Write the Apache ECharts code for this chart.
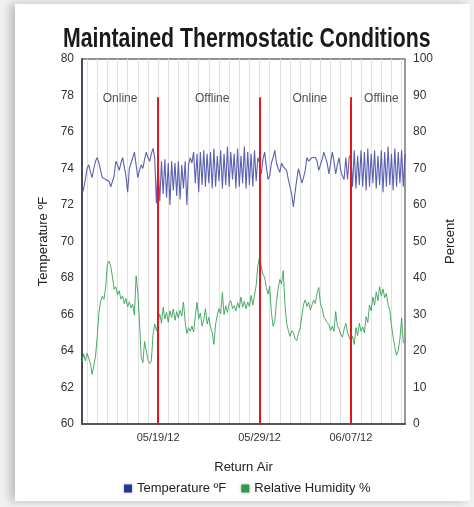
<!DOCTYPE html>
<html>
<head>
<meta charset="utf-8">
<script src="https://cdn.jsdelivr.net/npm/echarts@6/dist/echarts.min.js"></script>
<style>
html,body{margin:0;padding:0;background:#f1f1f1;width:474px;height:507px;overflow:hidden;}
#card{position:absolute;left:15px;top:4px;width:455px;height:497px;background:#fff;box-shadow:-5px 0 9px rgba(0,0,0,0.22);}
#chart{position:absolute;left:0;top:0;width:474px;height:507px;}
</style>
</head>
<body>
<div id="card"></div>
<div id="chart"></div>
<script>
// ---- data ----
const startTime = new Date(2012, 4, 11, 12, 0, 0).getTime();
const stepMs = 4 * 3600 * 1000; // one reading every 4 hours

const temperatureF = [
  72.6,72.9,73.4,74.0,74.2,73.8,73.5,74.0,74.4,74.6,
  74.3,73.9,73.5,73.5,73.4,73.5,73.3,73.0,72.9,73.6,
  74.4,74.2,73.9,74.3,74.6,74.7,73.6,72.7,74.0,74.3,
  74.6,74.9,74.2,73.5,73.9,74.2,74.0,74.5,74.9,74.6,
  74.4,74.8,75.1,74.6,72.1,
  74.3,72.2,74.4,72.6,74.5,72.4,74.3,72.0,74.4,72.8,
  74.3,72.5,74.4,72.3,74.2,72.9,74.4,72.0,74.2,74.6,
  74.3,74.9,73.2,74.8,72.7,74.9,73.1,75.0,73.0,74.8,
  73.2,74.9,72.9,75.1,73.0,74.7,73.3,75.0,72.9,74.8,
  73.1,75.2,73.0,74.9,73.4,74.8,72.9,75.1,73.0,74.7,
  73.2,75.2,72.9,74.9,73.1,74.8,73.0,75.0,73.3,74.6,
  74.3,73.7,74.5,74.9,74.1,73.4,73.6,74.3,74.6,75.0,
  74.3,74.0,73.8,74.3,74.1,74.2,73.9,73.4,73.0,72.6,
  71.9,72.7,73.4,74.0,73.6,73.2,73.5,73.9,74.6,74.4,
  74.5,74.6,74.5,74.6,74.4,73.9,74.2,74.5,74.9,74.6,
  74.3,73.7,74.3,74.9,74.4,73.7,74.2,74.6,73.9,73.6,
  73.4,74.6,73.4,74.6,
  74.8,73.0,75.0,72.9,74.7,73.1,75.0,73.0,74.9,72.8,
  75.1,73.0,74.8,73.2,75.0,72.9,74.7,73.1,75.0,72.7,
  74.9,73.0,75.2,73.1,74.8,72.8,75.1,73.0,74.9,73.2,
  75.0,73.0,74.8
];

const humidityPct = [
  17.0,19.2,17.3,19.4,18.0,16.5,13.6,13.9,18.5,24.0,
  30.5,33.6,35.0,34.2,37.5,43.8,44.6,43.2,40.3,36.9,
  37.6,35.4,36.5,34.2,35.1,33.0,34.4,32.1,33.5,31.8,
  32.8,29.8,40.6,36.0,28.0,18.5,16.8,22.6,23.0,17.6,
  16.6,17.2,24.5,27.4,25.6,27.8,30.2,27.6,32.0,28.8,
  30.6,27.9,31.0,29.2,31.5,28.4,30.8,29.0,31.2,29.6,
  33.4,28.0,24.8,26.4,25.4,26.8,25.2,29.6,33.3,28.8,
  30.4,26.8,28.6,31.6,27.4,29.2,26.6,25.0,21.8,27.4,
  29.8,31.6,30.2,36.0,30.0,32.4,30.6,33.0,33.8,31.6,
  32.4,31.0,33.2,31.8,34.8,32.0,33.6,31.6,33.4,32.2,
  35.2,32.6,33.0,38.0,43.4,45.8,43.0,41.0,40.2,37.4,
  35.6,37.8,30.5,26.8,28.2,33.5,37.2,39.6,38.4,42.0,
  33.0,27.6,25.6,24.0,25.6,25.0,23.4,22.8,24.8,26.4,
  29.6,32.8,34.0,32.2,33.4,31.2,32.6,34.0,33.0,36.0,
  37.4,33.0,31.6,29.4,29.8,27.8,27.2,25.6,26.8,25.4,
  30.8,27.0,26.0,24.6,23.8,26.0,27.6,25.0,25.4,22.6,
  24.0,21.8,26.4,24.2,27.6,25.4,26.6,25.0,29.4,27.8,
  32.6,31.0,34.8,32.6,36.2,33.8,37.6,35.0,37.0,34.6,
  35.8,32.8,31.2,27.0,23.8,21.0,18.8,20.2,23.4,29.0,
  22.4,22.0
];

const switchDates = [new Date(2012,4,19).getTime(), new Date(2012,4,29).getTime(), new Date(2012,5,7).getTime()];
const dateTickLabels = ['05/19/12', '05/29/12', '06/07/12'];
const phaseLabels = ['Online', 'Offline', 'Online', 'Offline'];
const phaseTimes = [new Date(2012,4,15,6).getTime(), new Date(2012,4,24,8).getTime(), new Date(2012,5,2,23).getTime(), new Date(2012,5,10,0).getTime()];
const tempTicks = {min: 60, max: 80, interval: 2};
const pctTicks = {min: 0, max: 100, interval: 10};
const titleText = 'Maintained Thermostatic Conditions';

// ---- build ----
const FONT = "'Liberation Sans', Arial, sans-serif";
const tempData = temperatureF.map((v, i) => [startTime + i * stepMs, v]);
const humData = humidityPct.map((v, i) => [startTime + i * stepMs, v]);
const endTime = startTime + (temperatureF.length - 1) * stepMs;

function labelFor(value) {
  const d = new Date(value);
  for (let k = 0; k < switchDates.length; k++) {
    const s = new Date(switchDates[k]);
    if (d.getFullYear() === s.getFullYear() && d.getMonth() === s.getMonth() && d.getDate() === s.getDate() && d.getHours() === 0) return dateTickLabels[k];
  }
  return '';
}

const chart = echarts.init(document.getElementById('chart'), null, {renderer: 'canvas'});
chart.setOption({
  backgroundColor: 'transparent',
  animation: false,
  graphic: [{
    type: 'text', left: 63, top: 26, scaleX: 0.788, scaleY: 1, originX: 0, originY: 0,
    style: {text: titleText, fontFamily: FONT, fontWeight: 'bold', fontSize: 27, fill: '#1a1a1a'}
  }],
  grid: {left: 82, right: 69, top: 59, bottom: 83, show: true, borderColor: '#222', borderWidth: 1, backgroundColor: 'transparent'},
  legend: {
    left: 119, top: 477,
    itemWidth: 8, itemHeight: 8, itemGap: 15,
    icon: 'rect',
    textStyle: {fontFamily: FONT, fontSize: 13, color: '#222'},
    itemStyle: {shadowBlur: 3, shadowColor: 'rgba(0,0,0,0.35)'},
    data: ['Temperature ºF', 'Relative Humidity %']
  },
  xAxis: {
    type: 'time', min: startTime, max: endTime,
    minInterval: 86400000, maxInterval: 86400000,
    name: 'Return Air', nameLocation: 'middle', nameGap: 37,
    nameTextStyle: {fontFamily: FONT, fontSize: 13, color: '#222'},
    axisLine: {show: true, lineStyle: {color: '#555', width: 2}},
    axisTick: {show: false},
    axisLabel: {show: true, interval: 0, formatter: labelFor, fontFamily: FONT, fontSize: 11, color: '#333', margin: 8, hideOverlap: false},
    splitLine: {show: true, lineStyle: {color: '#e0e0e0', width: 1}}
  },
  yAxis: [
    {
      type: 'value', position: 'left', min: tempTicks.min, max: tempTicks.max, interval: tempTicks.interval,
      name: 'Temperature ºF', nameLocation: 'middle', nameGap: 24, nameRotate: 90,
      nameTextStyle: {fontFamily: FONT, fontSize: 13, color: '#222'},
      axisLine: {show: true, lineStyle: {color: '#4a4a5a', width: 2}},
      axisTick: {show: false},
      axisLabel: {fontFamily: FONT, fontSize: 12, color: '#333', margin: 8},
      splitLine: {show: false}
    },
    {
      type: 'value', position: 'right', min: pctTicks.min, max: pctTicks.max, interval: pctTicks.interval,
      name: 'Percent', nameLocation: 'middle', nameGap: 34, nameRotate: 90,
      nameTextStyle: {fontFamily: FONT, fontSize: 13, color: '#222'},
      axisLine: {show: true, lineStyle: {color: '#999', width: 2}},
      axisTick: {show: false},
      axisLabel: {fontFamily: FONT, fontSize: 12, color: '#333', margin: 8},
      splitLine: {show: false}
    }
  ],
  series: [
    {
      name: 'Temperature ºF', type: 'line', yAxisIndex: 0, data: tempData,
      showSymbol: false, symbol: 'none',
      itemStyle: {color: '#22388c'},
      lineStyle: {color: '#4a4fa8', width: 1.1, opacity: 0.9},
      z: 3,
      markLine: {
        silent: true, symbol: ['none', 'none'],
        label: {show: false},
        lineStyle: {color: '#e8141e', width: 2, type: 'solid', opacity: 1},
        data: switchDates.map(t => [{coord: [t, 77.9]}, {coord: [t, tempTicks.min]}])
      }
    },
    {
      name: 'Relative Humidity %', type: 'line', yAxisIndex: 1, data: humData,
      showSymbol: false, symbol: 'none',
      itemStyle: {color: '#2c9a48'},
      lineStyle: {color: '#38a257', width: 1, opacity: 0.9},
      z: 2
    },
    {
      name: 'phases', type: 'scatter', yAxisIndex: 0, symbolSize: 0, silent: true,
      data: phaseLabels.map((txt, i) => ({name: txt, value: [phaseTimes[i], 77.8]})),
      label: {show: true, position: 'inside', formatter: p => p.name, fontFamily: FONT, fontSize: 12, color: '#222'},
      z: 5
    }
  ]
});
</script>
</body>
</html>
